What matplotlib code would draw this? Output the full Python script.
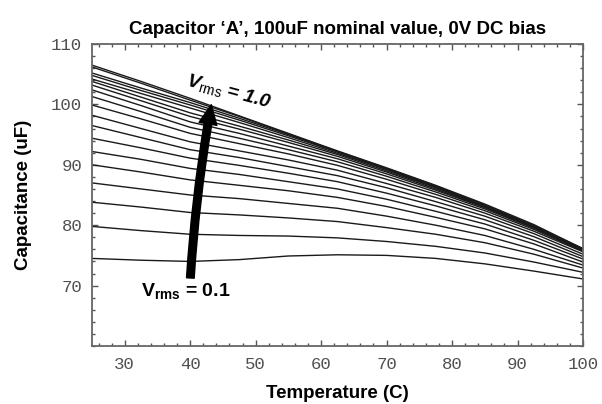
import numpy as np
import matplotlib
matplotlib.use("Agg")
import matplotlib.pyplot as plt
from matplotlib.ticker import MultipleLocator

plt.rcParams['font.family'] = ['Liberation Sans', 'DejaVu Sans']
plt.rcParams['mathtext.fontset'] = 'custom'
plt.rcParams['mathtext.rm'] = 'Liberation Sans'
plt.rcParams['mathtext.it'] = 'Liberation Sans:italic'
plt.rcParams['mathtext.bf'] = 'Liberation Sans:bold'
plt.rcParams['mathtext.bfit'] = 'Liberation Sans:bold:italic'

# temperature grid (C) at which capacitance was sampled
temperature = [25, 32.5, 40, 47.5, 55, 62.5, 70, 77.5, 85, 92.5, 100]

# AC drive levels, 0.1 V to 1.0 V rms
vrms = [0.10, 0.15, 0.20, 0.25, 0.30, 0.35, 0.40, 0.45, 0.50, 0.55,
        0.60, 0.65, 0.70, 0.75, 0.80, 0.85, 0.90, 0.95, 1.00]

# capacitance (uF) per drive level, one row per entry in vrms
capacitance = [
    [74.5, 74.2, 74.0, 74.3, 74.9, 75.1, 75.0, 74.5, 73.6, 72.4, 71.1],
    [79.8, 79.1, 78.5, 78.3, 78.2, 77.9, 77.3, 76.5, 75.4, 73.9, 72.2],
    [83.8, 83.0, 82.1, 81.7, 81.2, 80.6, 79.6, 78.5, 77.1, 75.2, 72.9],
    [87.0, 86.0, 85.0, 84.4, 83.6, 82.8, 81.5, 80.0, 78.3, 76.0, 73.4],
    [90.0, 88.8, 87.5, 86.6, 85.7, 84.6, 83.1, 81.3, 79.4, 76.9, 73.9],
    [92.2, 90.9, 89.4, 88.4, 87.2, 86.0, 84.3, 82.3, 80.2, 77.5, 74.4],
    [94.4, 92.8, 91.1, 89.9, 88.6, 87.2, 85.3, 83.2, 80.9, 78.1, 74.8],
    [96.5, 94.5, 92.5, 91.2, 89.7, 88.2, 86.2, 83.9, 81.5, 78.6, 75.2],
    [98.2, 96.0, 93.8, 92.3, 90.8, 89.1, 86.9, 84.6, 82.0, 79.0, 75.6],
    [99.9, 97.6, 95.2, 93.5, 91.8, 89.9, 87.6, 85.1, 82.4, 79.3, 75.7],
    [101.3, 98.8, 96.2, 94.4, 92.5, 90.5, 88.1, 85.5, 82.7, 79.5, 75.8],
    [102.4, 99.8, 97.1, 95.2, 93.1, 91.0, 88.5, 85.8, 82.9, 79.6, 75.9],
    [103.2, 100.6, 98.0, 95.9, 93.7, 91.4, 88.8, 86.0, 83.0, 79.7, 75.9],
    [103.8, 101.2, 98.6, 96.4, 94.1, 91.7, 89.0, 86.2, 83.1, 79.7, 76.0],
    [104.2, 101.8, 99.4, 97.0, 94.5, 91.9, 89.2, 86.3, 83.2, 79.8, 76.0],
    [104.8, 102.3, 99.9, 97.4, 94.8, 92.1, 89.3, 86.4, 83.3, 79.8, 76.0],
    [105.2, 102.7, 100.3, 97.7, 95.0, 92.2, 89.4, 86.5, 83.3, 79.9, 76.1],
    [106.2, 103.5, 100.7, 98.0, 95.1, 92.2, 89.4, 86.5, 83.3, 79.9, 76.1],
    [106.5, 103.8, 101.0, 98.1, 95.2, 92.3, 89.5, 86.6, 83.5, 80.1, 76.1],
]

fig = plt.figure(figsize=(6.02, 4.04), dpi=100)
ax = fig.add_axes([0.1528, 0.1436, 0.8156, 0.7475])

for v, row in zip(vrms, capacitance):
    ax.plot(temperature, row, color='#1a1a1a', lw=1.0)

ax.set_xlim(25, 100)
ax.set_ylim(60, 110)

# labelled ticks every 10, unlabelled ticks every 2, all pointing in
ax.xaxis.set_minor_locator(MultipleLocator(2))
ax.yaxis.set_minor_locator(MultipleLocator(2))
ax.set_xticks(np.arange(30, 101, 10))
ax.set_yticks(np.arange(70, 111, 10))
ax.tick_params(which='both', direction='in', top=True, right=True,
               color='#555555', width=1.0)
ax.tick_params(which='major', length=4, labelsize=12.5, labelcolor='#505050')
ax.tick_params(axis='x', which='major', pad=8)
ax.tick_params(axis='y', which='major', pad=7)
ax.tick_params(which='minor', length=2.5)
for lbl in ax.get_xticklabels() + ax.get_yticklabels():
    lbl.set_family('Liberation Mono')
for sp in ax.spines.values():
    sp.set_color('#666666')
    sp.set_linewidth(1.3)

ax.set_title("Capacitor \u2018A\u2019, 100uF nominal value, 0V DC bias",
             fontsize=13.5, fontweight='bold', pad=7)
ax.set_xlabel("Temperature (C)", fontsize=13.5, fontweight='bold', labelpad=9)
ax.set_ylabel("Capacitance (uF)", fontsize=13.5, fontweight='bold', labelpad=14)

# arrow showing increasing drive level
ax.annotate("", xy=(43.3, 100.4), xytext=(40.0, 70.8),
            arrowprops=dict(arrowstyle='simple,head_width=1.3,head_length=1.4,tail_width=0.55',
                            fc='black', ec='black', connectionstyle='arc3,rad=-0.03'))

ax.text(39.4, 69.1, r"$\mathbf{V}_{\mathbf{rms}}$ = 0.1", fontsize=14,
        fontweight='bold', ha='center', va='center')
ax.text(45.9, 102.1, r"$\mathbfit{V}_{\mathrm{rms}}$ = 1.0", fontsize=14,
        fontweight='bold', style='italic', ha='center', va='center', rotation=-15)

fig.savefig("out.png", dpi=100)
